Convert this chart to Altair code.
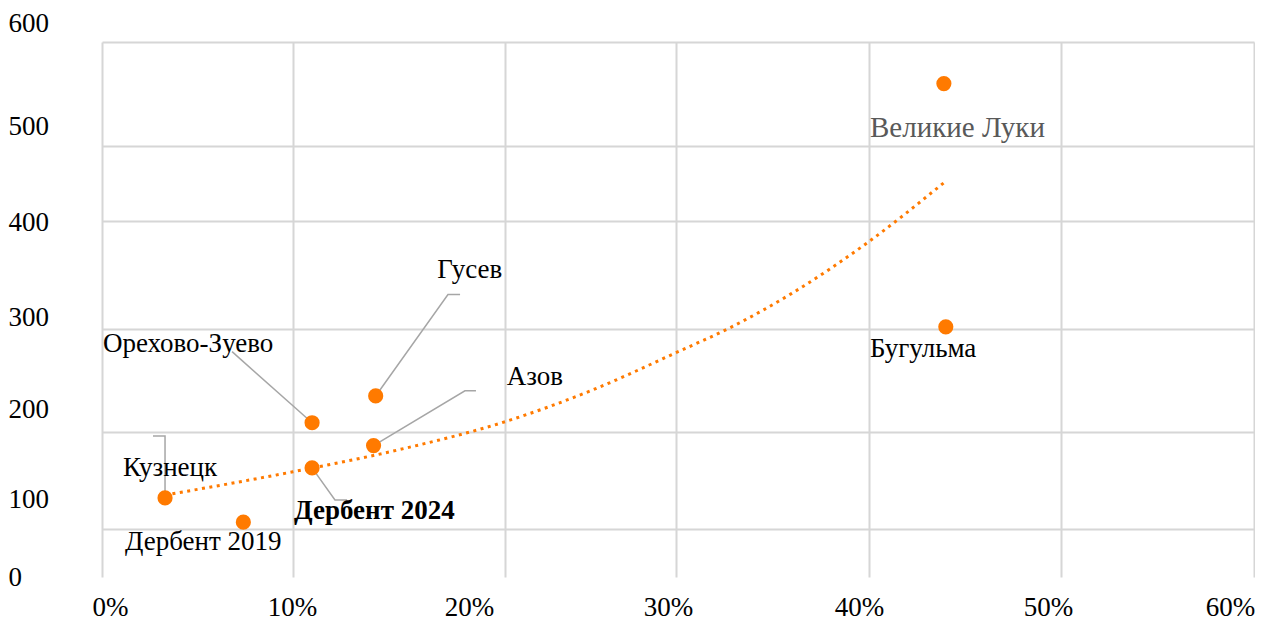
import altair as alt
import pandas as pd

# ---- data ----
cities = ["Великие Луки", "Бугульма", "Гусев", "Орехово-Зуево",
          "Азов", "Дербент 2024", "Кузнецк", "Дербент 2019"]
share_pct = [43.9, 44.0, 13.9, 10.9, 13.8, 10.9, 3.3, 7.4]
values = [560, 302, 235, 209, 186, 163, 132, 107]

# label anchor points (data units)
label_x = [40.05, 40.05, 16.8, 0.05, 20.1, 10.05, 1.1, 1.2]
label_y = [517, 281, 355, 285, 253, 119, 163, 73]

# exponential trend line
trend_x = [3.3, 10.0, 15.05, 20.0, 25.0, 30.0, 33.0, 36.0, 40.0, 43.9]
trend_y = [135, 159, 182, 210, 240, 277, 303, 333, 381, 451]

# leader lines from points to labels
conn_id = ["Гусев"] * 3 + ["Орехово-Зуево"] * 2 + ["Азов"] * 3 + ["Дербент 2024"] * 3 + ["Кузнецк"] * 3
conn_order = [0, 1, 2, 0, 1, 0, 1, 2, 0, 1, 2, 0, 1, 2]
conn_x = [13.9, 17.31, 17.88, 10.9, 6.81, 13.8, 18.11, 18.63, 10.9, 11.98, 12.55, 3.3, 3.3, 2.67]
conn_y = [235, 332, 332, 209, 278, 186, 240, 240, 163, 130, 130, 132, 196, 196]

x_ticks = [0, 10, 20, 30, 40, 50, 60]
y_ticks = [0, 100, 200, 300, 400, 500, 600]

# ---- layout ----
W, H = 1152, 535
x_grid_range = [0, 191, 403, 574, 767, 959, 1152]
y_grid_range = [535, 487, 390, 287, 179, 104, 0]
x_label_range = [8, 190, 367, 566, 757, 946, 1128]
y_label_range = [535, 457, 367, 275, 180, 84, -19]

ORANGE = "#FF7A00"
GRID = "#D6D6D6"
FONT = "Liberation Serif"

xs = alt.Scale(domain=x_ticks, range=x_grid_range)
ys = alt.Scale(domain=y_ticks, range=y_grid_range)

pts = pd.DataFrame({"city": cities, "x": share_pct, "y": values})
labels = pd.DataFrame({"city": cities, "x": label_x, "y": label_y})
trend = pd.DataFrame({"x": trend_x, "y": trend_y})
conns = pd.DataFrame({"id": conn_id, "o": conn_order, "x": conn_x, "y": conn_y})
ticks = pd.DataFrame({"x": x_ticks, "y": y_ticks})

grid_x_axis = alt.Axis(values=x_ticks, grid=True, gridColor=GRID, gridWidth=2,
                       labels=False, ticks=False, domain=False, title=None)
grid_y_axis = alt.Axis(values=y_ticks[1:], grid=True, gridColor=GRID, gridWidth=2,
                       labels=False, ticks=False, domain=False, title=None)

X = alt.X("x:Q", scale=xs, axis=grid_x_axis)
Y = alt.Y("y:Q", scale=ys, axis=grid_y_axis)

trend_layer = alt.Chart(trend).mark_line(
    color=ORANGE, strokeWidth=3, strokeDash=[3, 4.5], interpolate="monotone"
).encode(x=X, y=Y)

conn_layer = alt.Chart(conns).mark_line(color="#A6A6A6", strokeWidth=1.5).encode(
    x=X, y=Y, detail="id:N", order="o:Q",
)

point_layer = alt.Chart(pts).mark_circle(size=230, color=ORANGE, opacity=1).encode(x=X, y=Y)

text_base = alt.Chart(labels).encode(x=X, y=Y, text="city:N")
text_normal = text_base.mark_text(
    align="left", baseline="middle", font=FONT
).encode(
    color=alt.condition(alt.datum.city == "Великие Луки", alt.value("#595959"), alt.value("black")),
    size=alt.condition(alt.datum.city == "Великие Луки", alt.value(29), alt.value(27)),
).transform_filter(alt.datum.city != "Дербент 2024")
text_bold = text_base.mark_text(
    align="left", baseline="middle", font=FONT, fontSize=27, fontWeight="bold", color="black"
).transform_filter(alt.datum.city == "Дербент 2024")

data_layers = alt.layer(trend_layer, conn_layer, point_layer, text_normal, text_bold)

axis_labels = alt.Chart(ticks).mark_point(opacity=0).encode(
    x=alt.X("x:Q", scale=alt.Scale(domain=x_ticks, range=x_label_range),
            axis=alt.Axis(values=x_ticks, orient="bottom", labelExpr="datum.value + '%'",
                          grid=False, ticks=False, tickSize=0, domain=False, title=None,
                          labelFont=FONT, labelFontSize=27, labelColor="black",
                          labelBaseline="middle", labelPadding=30,
                          labelFlush=False, labelOverlap=False)),
    y=alt.Y("y:Q", scale=alt.Scale(domain=y_ticks, range=y_label_range),
            axis=alt.Axis(values=y_ticks, orient="left",
                          grid=False, ticks=False, tickSize=0, domain=False, title=None,
                          labelFont=FONT, labelFontSize=27, labelColor="black",
                          labelAlign="left", labelBaseline="middle", labelPadding=94,
                          labelFlush=False, labelOverlap=False)),
)

chart = alt.layer(data_layers, axis_labels).resolve_scale(
    x="independent", y="independent"
).properties(
    width=W, height=H,
    padding={"left": 94, "top": 34, "right": 1, "bottom": 44},
    autosize=alt.AutoSizeParams(type="none"),
    background="white",
).configure_view(stroke=None)

chart.save("out.html", embed_options={"renderer": "svg", "actions": False})
